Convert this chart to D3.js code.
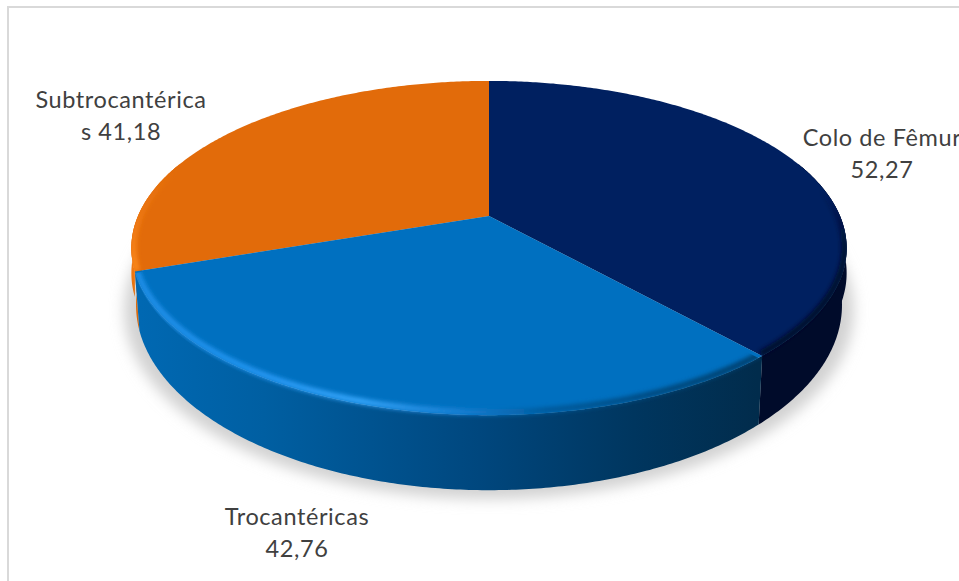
<!DOCTYPE html>
<html>
<head>
<meta charset="utf-8">
<script src="https://cdn.jsdelivr.net/npm/d3@7"></script>
<style>
  html, body { margin: 0; padding: 0; background: #fff; overflow: hidden; }
  svg { display: block; }
  text { font-family: Lato, "Open Sans", sans-serif; font-size: 23.5px; letter-spacing: 0.6px; fill: #404040; text-anchor: middle; }
</style>
</head>
<body>
<script>
// Hip fracture sites, mean values
const categories = ["Colo de Fêmur", "Trocantéricas", "Subtrocantéricas"];
const values = [52.27, 42.76, 41.18];
const topColors = ["#002060", "#0070C0", "#E26B0A"];
const labelLines = [
  ["Colo de Fêmur", "52,27"],
  ["Trocantéricas", "42,76"],
  ["Subtrocantérica", "s 41,18"]
];
const labelAnchors = [[882, 146], [297, 525], [121, 108]];

const W = 959, H = 581;
const svg = d3.select("body").append("svg").attr("width", W).attr("height", H);
const defs = svg.append("defs");

// Frame around the chart area
svg.append("path").attr("d", `M8,${H}V7H${W}`).attr("fill", "none")
  .attr("stroke", "#d9d9d9").attr("stroke-width", 2);

// Perspective view of a disc: tilt and foreshortening of the pie
const view = { cx: 489, cy: 216, rx: 351, ry: 161, k: 0.1917 };
const project = (angle, sx = 1, sy = 1, dy = 0) => {
  const u = Math.sin(angle), v = -Math.cos(angle), d = 1 - view.k * v;
  return [view.cx + sx * view.rx * u / d, view.cy + dy + sy * view.ry * v / d];
};
const rimBase = { sx: 0.987, sy: 1.108, dy: 53.5 };
const rimShoulder = { sx: 1, sy: 1.03, dy: 24 };
const arcPoints = (a0, a1, o = {}) => {
  const n = Math.max(2, Math.ceil(Math.abs(a1 - a0) / 0.01));
  return d3.range(n + 1).map(i => project(a0 + (a1 - a0) * i / n, o.sx, o.sy, o.dy));
};
const line = d3.line();
const rad = d => d * Math.PI / 180;

const slices = d3.pie().sort(null).value(d => d)(values);

function linear(id, x1, y1, x2, y2, stops) {
  const g = defs.append("linearGradient").attr("id", id).attr("gradientUnits", "userSpaceOnUse")
    .attr("x1", x1).attr("y1", y1).attr("x2", x2).attr("y2", y2);
  stops.forEach(([o, c, a]) => g.append("stop").attr("offset", o).attr("stop-color", c)
    .attr("stop-opacity", a === undefined ? 1 : a));
}

defs.append("filter").attr("id", "soft").attr("x", "-10%").attr("y", "-10%")
  .attr("width", "120%").attr("height", "120%")
  .append("feGaussianBlur").attr("stdDeviation", 7);
defs.append("filter").attr("id", "bevel").attr("filterUnits", "userSpaceOnUse")
  .attr("x", 0).attr("y", 0).attr("width", W).attr("height", H)
  .append("feGaussianBlur").attr("stdDeviation", 2);

// Drop shadow under the whole disc
svg.append("path")
  .attr("d", line(arcPoints(0, 2 * Math.PI, { sx: 1.02, sy: 1.13, dy: 58 })) + "Z")
  .attr("fill", "#d2d2d2").attr("filter", "url(#soft)");

// Side walls; the back two also get a rounded shoulder below the rim
linear("wallBlue", 140, 0, 757, 0, [
  [0, "#0068b2"], [0.2, "#005fa2"], [0.55, "#00477e"], [0.8, "#00365f"], [1, "#012c4c"]
]);
linear("wallOrange", 0, 270, 0, 345, [[0, "#f07810"], [1, "#c85e08"]]);

const wallSpans = [
  { a0: rad(70), a1: slices[0].endAngle, fill: "#000b2a" },
  { a0: slices[2].startAngle, a1: rad(290), fill: "url(#wallOrange)" }
];
const wallPath = (d, lower) => line(arcPoints(d.a0, d.a1).concat(arcPoints(d.a1, d.a0, lower))) + "Z";
const walls = svg.append("g");
walls.selectAll("path.shoulder").data(wallSpans).join("path").attr("class", "shoulder")
  .attr("d", d => wallPath(d, rimShoulder)).attr("fill", d => d.fill);
walls.selectAll("path.wall").data(wallSpans.concat([
  { a0: slices[1].startAngle, a1: slices[1].endAngle, fill: "url(#wallBlue)" }
])).join("path").attr("class", "wall")
  .attr("d", d => wallPath(d, rimBase)).attr("fill", d => d.fill);

// Top faces, each with a soft bevel along its outer edge
linear("rim0", 0, 190, 0, 300, [[0, "#000b2a", 0], [0.5, "#000b2a", 0.85], [1, "#000b2a", 1]]);
linear("rim1", 135, 0, 757, 0, [
  [0, "#1f8fe8"], [0.2, "#2596f2"], [0.36, "#35a5fa"], [0.52, "#1a80d4"],
  [0.66, "#005a9c"], [0.85, "#00487c"], [1, "#003f6c"]
]);
linear("rim2", 0, 170, 0, 280, [[0, "#ff8c1e", 0], [1, "#ff8c1e", 1]]);

const drawOrder = [2, 0, 1];
const topPath = s => line([[view.cx, view.cy]].concat(arcPoints(s.startAngle, s.endAngle))) + "Z";
// The clip reaches a little past the rim so the bevel can feather into the wall
const bevelClip = s => line([[view.cx, view.cy]].concat(
  arcPoints(s.startAngle, s.endAngle, { sy: 1.03 }))) + "Z";
const inset = { sx: 0.994, sy: 0.985 };

drawOrder.forEach(i => {
  const s = slices[i];
  defs.append("clipPath").attr("id", `face${i}`).append("path").attr("d", bevelClip(s));
  svg.append("path").attr("d", topPath(s)).attr("fill", topColors[i]);
  svg.append("g").attr("clip-path", `url(#face${i})`)
    .append("path")
    .attr("d", line(arcPoints(s.startAngle, s.endAngle, inset)))
    .attr("fill", "none")
    .attr("stroke", `url(#rim${i})`)
    .attr("stroke-width", 6)
    .attr("filter", "url(#bevel)");
});

// Data labels
const labels = svg.append("g").selectAll("text").data(labelLines).join("text")
  .attr("transform", (d, i) => `translate(${labelAnchors[i][0]},${labelAnchors[i][1]})`);
labels.selectAll("tspan").data(d => d).join("tspan")
  .attr("x", 0).attr("dy", (d, i) => i ? 31.5 : 0).text(d => d);
</script>
</body>
</html>
